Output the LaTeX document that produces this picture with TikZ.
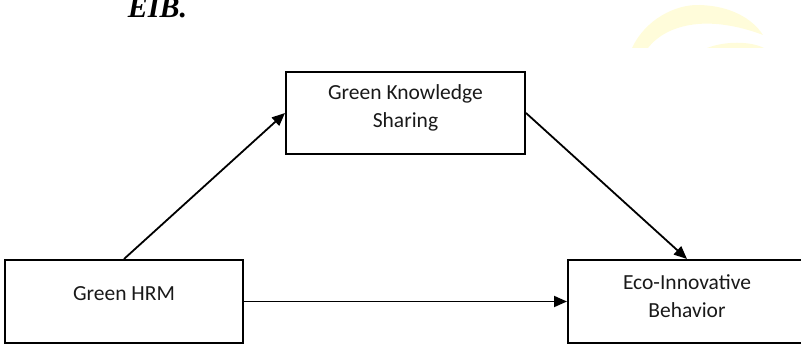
\documentclass[tikz,border=0pt]{standalone}
\usepackage{fontspec}
\setmainfont{Carlito}
\newfontfamily\headfont{Liberation Serif}
\usepackage{xcolor}
\definecolor{colorMark}{RGB}{255,252,218}
\colorlet{colorBox}{black}
\colorlet{colorText}{black!90}
\usetikzlibrary{arrows.meta, positioning}
\tikzset{box/.style={draw=colorBox, line width=2pt, minimum width=238pt, minimum height=83pt, inner sep=0pt}}
\tikzset{boxtext/.style={align=center, text=colorText, font=\fontsize{21.5}{28}\selectfont}}

\begin{document}
\begin{tikzpicture}[x=1pt, y=-1pt, >={Triangle[length=13pt, width=11pt]}, line width=1.8pt]
\clip (0,0) rectangle (801,345);
% faint mark, top right
\fill[colorMark] (632,48) .. controls (645,20) and (675,4) .. (700,5) .. controls (730,6) and (752,18) .. (763,35) .. controls (745,28) and (720,22) .. (698,24) .. controls (675,26) and (658,35) .. (648,48) -- cycle;
\fill[colorMark] (707,48) .. controls (725,41) and (750,41) .. (764,48) -- cycle;
\node[anchor=base west, inner sep=0pt, font=\headfont\bfseries\itshape\fontsize{30}{30}\selectfont] (title) at (127,17.5) {EIB.};
% boxes
\node[box, minimum width=239pt, minimum height=82pt] (gks) at (405.5,113) {};
\node[boxtext] (gkstext) at ([yshift=5.5pt]gks.center) {Green Knowledge\\Sharing};
\node[box] (hrm) at (124,301.5) {};
\node[boxtext] (hrmtext) at ([yshift=7.5pt]hrm.center) {Green HRM};
\node[box] (eco) at (687,301.5) {};
\node[boxtext] (ecotext) at ([yshift=5.5pt]eco.center) {Eco-Innovative\\Behavior};
% paths
\draw[->] (hrm.north) -- (gks.west);
\draw[->] (gks.east) -- (eco.north);
\draw[->] (hrm.east) -- (eco.west);
\end{tikzpicture}
\end{document}
